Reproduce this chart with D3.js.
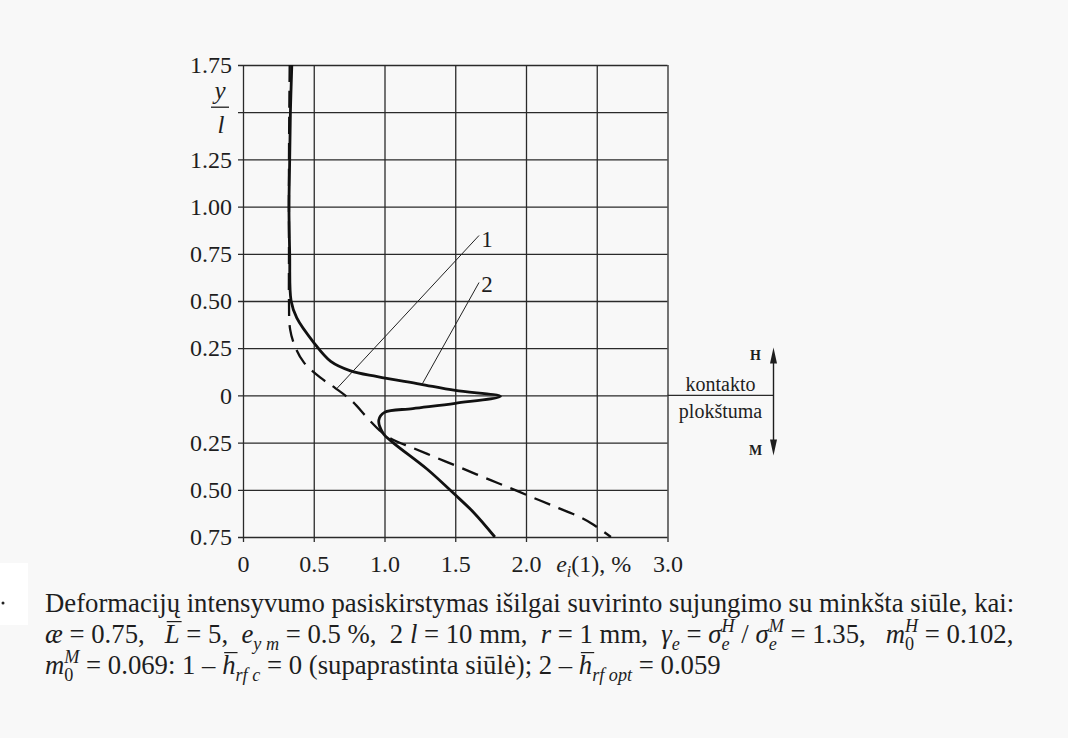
<!DOCTYPE html>
<html>
<head>
<meta charset="utf-8">
<script src="https://cdn.jsdelivr.net/npm/d3@7"></script>
<style>
  body { margin: 0; background: #f8f8f8; }
  svg { display: block; }
  text { font-family: "Liberation Serif", "DejaVu Serif", serif; fill: #1e1e1e; }
</style>
</head>
<body>
<div id="chart"></div>
<script>
// strain values: [e_i(1) %, y/l]
const curve1 = [[0.33,1.75],[0.325,1.25],[0.325,0.75],[0.325,0.5],[0.333,0.35],[0.37,0.255],[0.43,0.175],
  [0.545,0.095],[0.65,0.04],[0.77,-0.03],[0.88,-0.12],[0.98,-0.195],[1.06,-0.235],[1.20,-0.278],[1.35,-0.325],
  [1.50,-0.371],[1.65,-0.418],[1.80,-0.464],[1.95,-0.51],[2.10,-0.557],[2.23,-0.597],[2.36,-0.637],[2.46,-0.677],[2.60,-0.75]];
const curve2 = [[0.345,1.75],[0.335,1.5],[0.33,1.25],[0.325,1.0],[0.33,0.75],[0.34,0.5],[0.38,0.41],[0.5,0.28],
  [0.62,0.18],[0.76,0.13],[0.95,0.10],[1.25,0.06],[1.5,0.026],[1.82,-0.005],[1.5,-0.042],[1.2,-0.07],
  [1.0,-0.09],[0.96,-0.13],[0.99,-0.2],[1.06,-0.25],[1.3,-0.39],[1.49,-0.52],[1.63,-0.62],[1.78,-0.75]];

const yTicks = [1.75,1.5,1.25,1,0.75,0.5,0.25,0,-0.25,-0.5,-0.75];
const yLabels = ["1.75","","1.25","1.00","0.75","0.50","0.25","0","0.25","0.50","0.75"];
const xTicks = [0,0.5,1,1.5,2,2.5,3];
const xLabels = ["0","0.5","1.0","1.5","2.0","","3.0"];

// leader lines: label position and point on the curve
const leaders = [
  {name: "1", label: [1.724, 0.826], from: [1.668, 0.847], to: [0.664, 0.037]},
  {name: "2", label: [1.724, 0.588], from: [1.668, 0.598], to: [1.265, 0.058]}
];

const width = 1068, height = 738;
const svg = d3.select("#chart").append("svg")
  .attr("width", width).attr("height", height);

svg.append("rect").attr("x", 0).attr("y", 563).attr("width", 28).attr("height", 62).attr("fill", "#fff");
svg.append("circle").attr("cx", 3).attr("cy", 603).attr("r", 1.5).attr("fill", "#222");

const x = d3.scaleLinear().domain([0, 3]).range([243, 667.5]);
const y = d3.scaleLinear().domain([-0.75, 1.75]).range([537, 65]);

// grid via axes
const gy = svg.append("g")
  .attr("transform", `translate(${x(0) - 5},0)`)
  .call(d3.axisLeft(y).tickValues(yTicks)
    .tickFormat((d, i) => yLabels[i])
    .tickSize(-(x(3) - x(0) + 5)).tickPadding(6));
const gx = svg.append("g")
  .attr("transform", `translate(0,${y(-0.75) + 5})`)
  .call(d3.axisBottom(x).tickValues(xTicks)
    .tickFormat((d, i) => xLabels[i])
    .tickSize(-(y(-0.75) - y(1.75) + 5)).tickPadding(13));
[gx, gy].forEach(g => {
  g.attr("font-family", null);
  g.select(".domain").remove();
  g.selectAll(".tick line").attr("stroke", "#2a2a2a").attr("stroke-width", 1.3);
  g.selectAll(".tick text").attr("font-size", 24).attr("fill", "#1e1e1e");
});

// y/l label
const yl = svg.append("g").attr("font-style", "italic").attr("font-size", 25).attr("text-anchor", "middle");
yl.append("text").attr("x", 220).attr("y", y(1.5) - 13).text("y");
yl.append("line").attr("x1", 211).attr("x2", 229).attr("y1", y(1.5) - 5).attr("y2", y(1.5) - 5)
  .attr("stroke", "#1e1e1e").attr("stroke-width", 1.3);
yl.append("text").attr("x", 221).attr("y", y(1.5) + 21).text("l");

// x axis title
const xt = svg.append("text").attr("x", x(2.5) - 3).attr("y", y(-0.75) + 35)
  .attr("text-anchor", "middle").attr("font-size", 24).style("white-space", "pre");
xt.append("tspan").attr("font-style", "italic").text("e");
xt.append("tspan").attr("font-style", "italic").attr("font-size", 16).attr("dy", 5).text("i");
xt.append("tspan").attr("dy", -5).text("(1), %");

const line = d3.line().x(d => x(d[0])).y(d => y(d[1])).curve(d3.curveCatmullRom.alpha(0.5));

svg.append("path").datum(curve1).attr("d", line)
  .attr("fill", "none").attr("stroke", "#111").attr("stroke-width", 2.3)
  .attr("stroke-dasharray", "17,9");
svg.append("path").datum(curve2).attr("d", line)
  .attr("fill", "none").attr("stroke", "#111").attr("stroke-width", 2.8);

svg.selectAll(".leader").data(leaders).join("line").attr("class", "leader")
  .attr("x1", d => x(d.from[0])).attr("y1", d => y(d.from[1]))
  .attr("x2", d => x(d.to[0])).attr("y2", d => y(d.to[1]))
  .attr("stroke", "#222").attr("stroke-width", 1);
svg.selectAll(".lname").data(leaders).join("text").attr("class", "lname")
  .attr("x", d => x(d.label[0])).attr("y", d => y(d.label[1]) + 8)
  .attr("text-anchor", "middle").attr("font-size", 23).text(d => d.name);

// contact plane annotation
const ax = x(3) + 106;
svg.append("line").attr("x1", x(3)).attr("x2", ax).attr("y1", y(0)).attr("y2", y(0))
  .attr("stroke", "#2a2a2a").attr("stroke-width", 1.3);
svg.append("line").attr("x1", ax).attr("x2", ax).attr("y1", y(0) - 40).attr("y2", y(0) + 52)
  .attr("stroke", "#1e1e1e").attr("stroke-width", 1.4);
svg.append("path").attr("d", `M${ax},${y(0) - 48} L${ax - 3.5},${y(0) - 32} L${ax + 3.5},${y(0) - 32}Z`).attr("fill", "#1e1e1e");
svg.append("path").attr("d", `M${ax},${y(0) + 60} L${ax - 3.5},${y(0) + 44} L${ax + 3.5},${y(0) + 44}Z`).attr("fill", "#1e1e1e");
svg.append("text").attr("x", ax - 18).attr("y", y(0) - 35).attr("text-anchor", "middle")
  .attr("font-size", 14).attr("font-weight", "bold").text("H");
svg.append("text").attr("x", ax - 18).attr("y", y(0) + 60).attr("text-anchor", "middle")
  .attr("font-size", 14).attr("font-weight", "bold").text("M");
svg.append("text").attr("x", ax - 53).attr("y", y(0) - 4).attr("text-anchor", "middle")
  .attr("font-size", 20).text("kontakto");
svg.append("text").attr("x", ax - 53).attr("y", y(0) + 23).attr("text-anchor", "middle")
  .attr("font-size", 20).text("plokštuma");

// caption
const cap1 = svg.append("text").attr("x", 45).attr("y", 612).attr("font-size", 21)
  .text("Deformacijų intensyvumo pasiskirstymas išilgai suvirinto sujungimo su minkšta siūle, kai:");
const fs = 21 * 970 / cap1.node().getComputedTextLength();
cap1.attr("font-size", fs);

function rich(yPos, parts) {
  const t = svg.append("text").attr("x", 45).attr("y", yPos).attr("font-size", fs).style("white-space", "pre");
  let shift = 0;
  const bars = [];
  parts.forEach(p => {
    const target = p.sub ? fs * 0.25 : p.sup ? -fs * 0.4 : 0;
    const s = t.append("tspan").text(p.t).attr("dy", target - shift);
    shift = target;
    if (p.dx) s.attr("dx", p.dx);
    if (p.i) s.attr("font-style", "italic");
    if (p.sub || p.sup) s.attr("font-size", fs * 0.68);
    if (p.o) bars.push(s);
  });
  // overbars drawn by hand
  bars.forEach(s => {
    const n = s.node();
    const p0 = n.getStartPositionOfChar(0);
    const w = n.getComputedTextLength();
    svg.append("line")
      .attr("x1", p0.x + 2).attr("x2", p0.x + w + 2)
      .attr("y1", yPos - fs * 0.8).attr("y2", yPos - fs * 0.8)
      .attr("stroke", "#1e1e1e").attr("stroke-width", 1.2);
  });
}
rich(643, [
  {t: "æ", i: 1}, {t: " = 0.75,   "}, {t: "L", i: 1, o: 1}, {t: " = 5,  "}, {t: "e", i: 1}, {t: "y m", i: 1, sub: 1},
  {t: " = 0.5 %,  2 "}, {t: "l", i: 1}, {t: " = 10 mm,  "}, {t: "r", i: 1}, {t: " = 1 mm,  "},
  {t: "γ", i: 1}, {t: "e", i: 1, sub: 1}, {t: " = "}, {t: "σ", i: 1}, {t: "e", i: 1, sub: 1}, {t: "H", i: 1, sup: 1, dx: -fs * 0.3},
  {t: " / "}, {t: "σ", i: 1}, {t: "e", i: 1, sub: 1}, {t: "M", i: 1, sup: 1, dx: -fs * 0.3}, {t: " = 1.35,   "},
  {t: "m", i: 1}, {t: "0", sub: 1}, {t: "H", i: 1, sup: 1, dx: -fs * 0.34}, {t: " = 0.102,"}
]);
rich(674, [
  {t: "m", i: 1}, {t: "0", sub: 1}, {t: "M", i: 1, sup: 1, dx: -fs * 0.34}, {t: " = 0.069: 1 – "},
  {t: "h", i: 1, o: 1}, {t: "rf c", i: 1, sub: 1}, {t: " = 0 (supaprastinta siūlė); 2 – "},
  {t: "h", i: 1, o: 1}, {t: "rf opt", i: 1, sub: 1}, {t: " = 0.059"}
]);
</script>
</body>
</html>
